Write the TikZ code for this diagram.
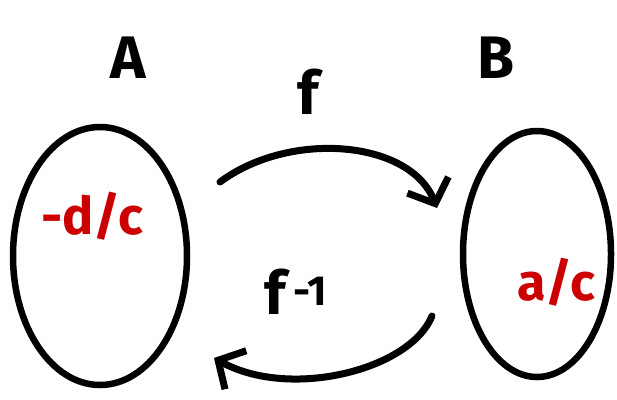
\documentclass[tikz,border=0pt]{standalone}
\usepackage{fontspec}
\setmainfont{Fira Sans}
\usetikzlibrary{arrows.meta,shapes.geometric}
\definecolor{hred}{RGB}{204,0,0}
\begin{document}
\begin{tikzpicture}[x=1pt,y=-1pt,
  set/.style={draw=black,line width=6.5pt,ellipse,inner sep=0pt},
  lbl/.style={font=\fontsize{60}{64}\selectfont\bfseries},
  val/.style={text=hred,font=\fontsize{52}{56}\selectfont\bfseries},
  arr/.style={line width=7pt,line cap=round,-{Straight Barb[length=20pt,width=44pt,line width=7pt]}}]
\useasboundingbox (0,0) rectangle (617,399);
\node[set,minimum width=174pt,minimum height=258pt] (A) at (100,256) {};
\node[set,minimum width=148pt,minimum height=246pt] (B) at (537,254) {};
\node[lbl] (lA) at (128,58) {A};
\node[lbl] (lf) at (308,92) {f};
\node[lbl] (lB) at (496,58) {B};
\node[lbl] (lfi) at (296,292) {f\textsuperscript{\,-1}};
\node[val] (vA) at (92,216) {-d/c};
\node[val] (vB) at (556,282) {a/c};
\coordinate (s1) at (220,182);
\coordinate (e1) at (437,208);
\coordinate (s2) at (432,316);
\coordinate (e2) at (214,358);
\draw[arr] (s1) .. controls (290,130) and (410,140) .. (e1);
\draw[arr] (s2) .. controls (410,370) and (290,400) .. (e2);
\end{tikzpicture}
\end{document}
